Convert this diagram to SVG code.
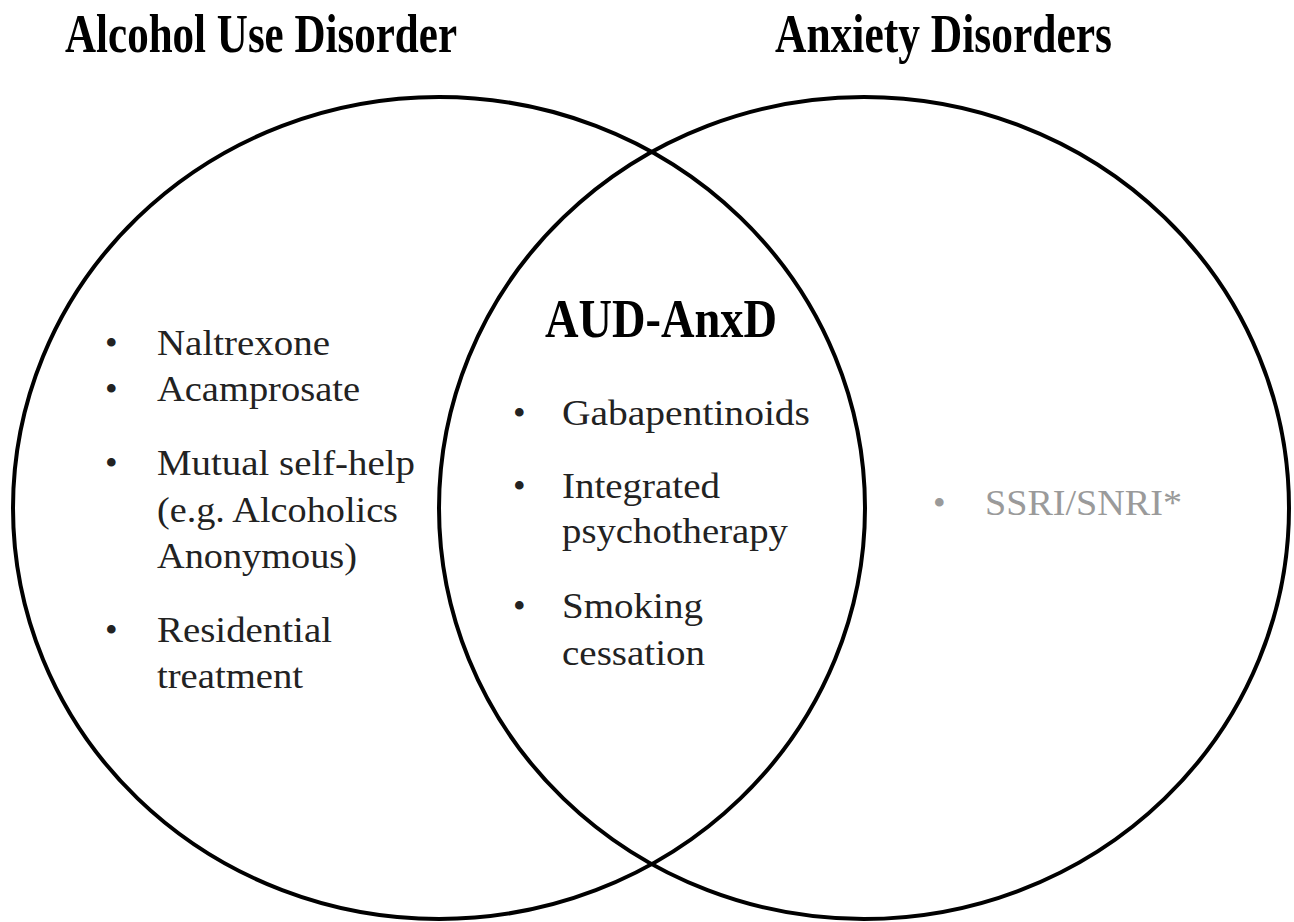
<svg xmlns="http://www.w3.org/2000/svg" width="1294" height="922" viewBox="0 0 1294 922">
<style>
.title{font-family:"Liberation Serif","Times New Roman",serif;font-weight:bold;font-size:55px;fill:#000}
.item{font-family:"Liberation Serif","Times New Roman",serif;font-size:36px;fill:#222}
.gray{fill:#9a9a9a}
.ring{fill:none;stroke:#000;stroke-width:4}
</style>
<rect width="1294" height="922" fill="#fff"/>
<g id="connectors"></g>
<g id="aud">
<ellipse class="ring" cx="439" cy="508" rx="426" ry="411"/>
<text class="title" x="65" y="52" textLength="392" lengthAdjust="spacingAndGlyphs">Alcohol Use Disorder</text>
<text class="item" x="105" y="355">•</text>
<text class="item" x="157" y="355" textLength="173" lengthAdjust="spacingAndGlyphs">Naltrexone</text>
<text class="item" x="105" y="401">•</text>
<text class="item" x="157" y="401" textLength="203" lengthAdjust="spacingAndGlyphs">Acamprosate</text>
<text class="item" x="105" y="475">•</text>
<text class="item" x="157" y="475" textLength="258" lengthAdjust="spacingAndGlyphs">Mutual self-help</text>
<text class="item" x="157" y="522" textLength="241" lengthAdjust="spacingAndGlyphs">(e.g. Alcoholics</text>
<text class="item" x="157" y="568" textLength="200" lengthAdjust="spacingAndGlyphs">Anonymous)</text>
<text class="item" x="105" y="642">•</text>
<text class="item" x="157" y="642" textLength="175" lengthAdjust="spacingAndGlyphs">Residential</text>
<text class="item" x="157" y="688" textLength="146" lengthAdjust="spacingAndGlyphs">treatment</text>
</g>
<g id="anx">
<ellipse class="ring" cx="864" cy="508" rx="425" ry="411"/>
<text class="title" x="775" y="52" textLength="337" lengthAdjust="spacingAndGlyphs">Anxiety Disorders</text>
<text class="item gray" x="933" y="515">•</text>
<text class="item gray" x="985" y="515" textLength="197" lengthAdjust="spacingAndGlyphs">SSRI/SNRI*</text>
</g>
<g id="overlap">
<text class="title" x="545" y="337" textLength="232" lengthAdjust="spacingAndGlyphs">AUD-AnxD</text>
<text class="item" x="513" y="425">•</text>
<text class="item" x="562" y="425" textLength="248" lengthAdjust="spacingAndGlyphs">Gabapentinoids</text>
<text class="item" x="513" y="498">•</text>
<text class="item" x="562" y="498" textLength="158" lengthAdjust="spacingAndGlyphs">Integrated</text>
<text class="item" x="562" y="543" textLength="226" lengthAdjust="spacingAndGlyphs">psychotherapy</text>
<text class="item" x="513" y="618">•</text>
<text class="item" x="562" y="618" textLength="141" lengthAdjust="spacingAndGlyphs">Smoking</text>
<text class="item" x="562" y="665" textLength="143" lengthAdjust="spacingAndGlyphs">cessation</text>
</g>
</svg>
